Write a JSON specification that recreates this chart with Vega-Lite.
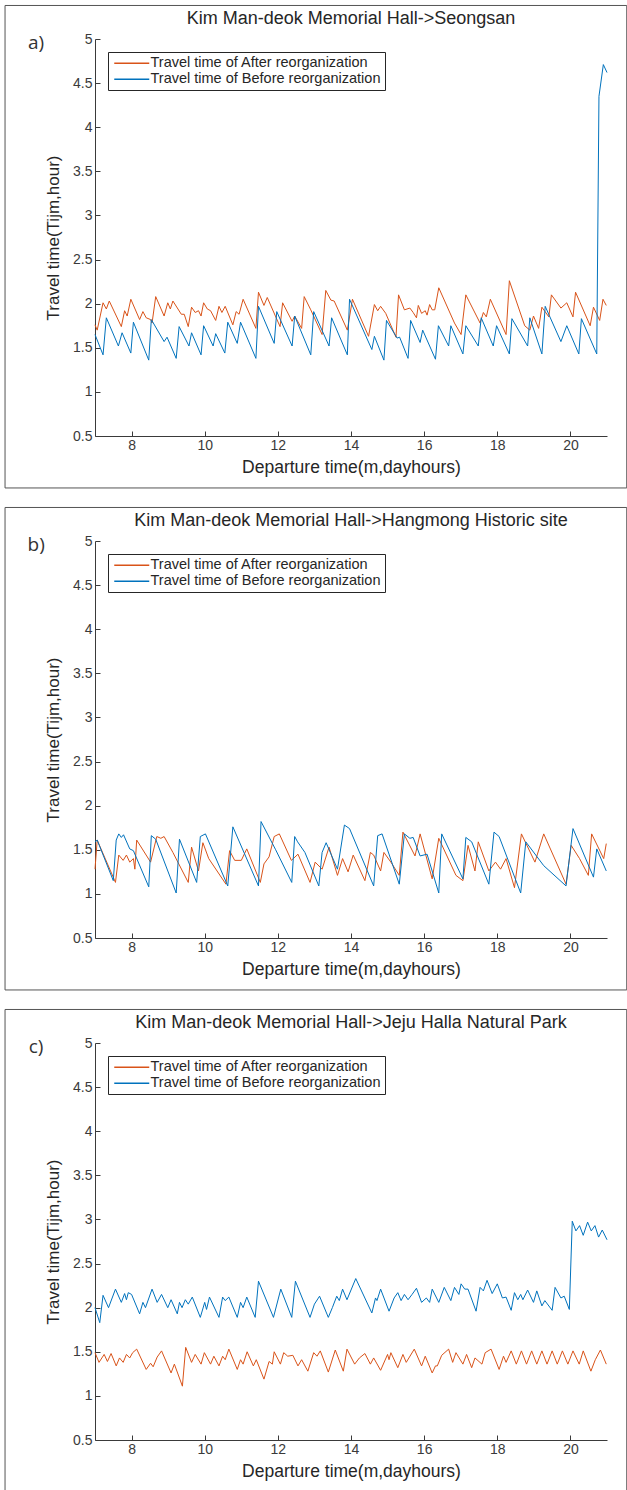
{
  "$schema": "https://vega.github.io/schema/vega-lite/v6.json",
  "padding": {"top": 4, "left": 4, "right": 0, "bottom": 0},
  "background": "white",
  "spacing": 17,
  "config": {
    "font": "Liberation Sans",
    "view": {"stroke": null},
    "axis": {"domainColor": "#3a3a3a", "tickColor": "#3a3a3a", "labelColor": "#3a3a3a", "titleColor": "#262626", "labelFontSize": 14, "titleFontSize": 17.5, "titleFontWeight": "normal", "grid": false, "tickSize": -5, "domainWidth": 1, "tickWidth": 1},
    "axisY": {"titleFontSize": 17},
    "title": {"fontSize": 18, "fontWeight": "normal", "color": "#262626", "frame": "group", "offset": -23},
    "legend": {"title": null, "orient": "top-left", "offset": 13, "symbolType": "M-1,0H6", "symbolSize": 100, "symbolStrokeWidth": 1.4, "strokeColor": "#262626", "fillColor": "white", "padding": 4, "labelFontSize": 14.5, "labelColor": "#262626", "labelLimit": 0, "rowPadding": 1, "labelOffset": 24}
  },
  "resolve": {"scale": {"color": "independent"}, "legend": {"color": "independent"}},
  "datasets": {
    "a": [
      {"s":"After","t":7.00,"v":1.76},{"s":"After","t":7.06,"v":1.70},{"s":"After","t":7.22,"v":2.01},{"s":"After","t":7.31,"v":1.94},{"s":"After","t":7.39,"v":2.03},{"s":"After","t":7.72,"v":1.74},{"s":"After","t":7.81,"v":1.92},{"s":"After","t":7.88,"v":1.86},{"s":"After","t":7.98,"v":2.05},{"s":"After","t":8.22,"v":1.82},{"s":"After","t":8.31,"v":1.91},{"s":"After","t":8.40,"v":1.84},{"s":"After","t":8.52,"v":1.82},{"s":"After","t":8.56,"v":1.78},{"s":"After","t":8.66,"v":2.08},{"s":"After","t":8.89,"v":1.86},{"s":"After","t":8.99,"v":2.01},{"s":"After","t":9.06,"v":1.94},{"s":"After","t":9.13,"v":2.03},{"s":"After","t":9.36,"v":1.88},{"s":"After","t":9.44,"v":1.88},{"s":"After","t":9.55,"v":1.74},{"s":"After","t":9.64,"v":1.96},{"s":"After","t":9.74,"v":1.90},{"s":"After","t":9.83,"v":1.92},{"s":"After","t":9.90,"v":1.86},{"s":"After","t":9.97,"v":2.01},{"s":"After","t":10.07,"v":1.94},{"s":"After","t":10.16,"v":1.92},{"s":"After","t":10.30,"v":1.81},{"s":"After","t":10.39,"v":1.97},{"s":"After","t":10.47,"v":1.90},{"s":"After","t":10.56,"v":1.97},{"s":"After","t":10.77,"v":1.76},{"s":"After","t":10.86,"v":1.91},{"s":"After","t":10.94,"v":1.88},{"s":"After","t":11.05,"v":2.05},{"s":"After","t":11.40,"v":1.72},{"s":"After","t":11.47,"v":2.13},{"s":"After","t":11.62,"v":1.98},{"s":"After","t":11.71,"v":2.07},{"s":"After","t":12.06,"v":1.74},{"s":"After","t":12.13,"v":2.01},{"s":"After","t":12.39,"v":1.80},{"s":"After","t":12.46,"v":1.86},{"s":"After","t":12.65,"v":1.72},{"s":"After","t":12.72,"v":2.08},{"s":"After","t":12.90,"v":1.93},{"s":"After","t":13.21,"v":1.65},{"s":"After","t":13.31,"v":2.15},{"s":"After","t":13.45,"v":2.04},{"s":"After","t":13.54,"v":2.03},{"s":"After","t":13.90,"v":1.70},{"s":"After","t":14.04,"v":2.05},{"s":"After","t":14.48,"v":1.63},{"s":"After","t":14.64,"v":1.99},{"s":"After","t":14.73,"v":1.92},{"s":"After","t":14.81,"v":1.97},{"s":"After","t":14.95,"v":1.89},{"s":"After","t":15.23,"v":1.62},{"s":"After","t":15.30,"v":2.10},{"s":"After","t":15.46,"v":1.93},{"s":"After","t":15.61,"v":1.95},{"s":"After","t":15.70,"v":1.90},{"s":"After","t":15.79,"v":1.84},{"s":"After","t":15.84,"v":1.98},{"s":"After","t":15.93,"v":1.89},{"s":"After","t":16.03,"v":1.92},{"s":"After","t":16.08,"v":1.87},{"s":"After","t":16.15,"v":1.99},{"s":"After","t":16.22,"v":1.93},{"s":"After","t":16.29,"v":1.93},{"s":"After","t":16.40,"v":2.18},{"s":"After","t":16.83,"v":1.78},{"s":"After","t":17.01,"v":1.65},{"s":"After","t":17.14,"v":2.10},{"s":"After","t":17.53,"v":1.78},{"s":"After","t":17.62,"v":1.90},{"s":"After","t":17.70,"v":1.85},{"s":"After","t":17.81,"v":2.05},{"s":"After","t":18.24,"v":1.65},{"s":"After","t":18.33,"v":2.26},{"s":"After","t":18.75,"v":1.75},{"s":"After","t":18.89,"v":1.70},{"s":"After","t":18.99,"v":1.86},{"s":"After","t":19.13,"v":1.72},{"s":"After","t":19.22,"v":1.96},{"s":"After","t":19.41,"v":1.85},{"s":"After","t":19.48,"v":2.10},{"s":"After","t":19.74,"v":1.95},{"s":"After","t":19.90,"v":2.01},{"s":"After","t":20.07,"v":1.85},{"s":"After","t":20.14,"v":2.13},{"s":"After","t":20.54,"v":1.75},{"s":"After","t":20.63,"v":1.96},{"s":"After","t":20.80,"v":1.81},{"s":"After","t":20.89,"v":2.05},{"s":"After","t":20.98,"v":1.98},
      {"s":"Before","t":7.00,"v":1.65},{"s":"Before","t":7.22,"v":1.42},{"s":"Before","t":7.31,"v":1.84},{"s":"Before","t":7.64,"v":1.52},{"s":"Before","t":7.74,"v":1.67},{"s":"Before","t":7.98,"v":1.44},{"s":"Before","t":8.05,"v":1.79},{"s":"Before","t":8.47,"v":1.36},{"s":"Before","t":8.54,"v":1.82},{"s":"Before","t":8.89,"v":1.57},{"s":"Before","t":8.97,"v":1.62},{"s":"Before","t":9.22,"v":1.38},{"s":"Before","t":9.30,"v":1.74},{"s":"Before","t":9.57,"v":1.52},{"s":"Before","t":9.64,"v":1.67},{"s":"Before","t":9.90,"v":1.42},{"s":"Before","t":9.97,"v":1.75},{"s":"Before","t":10.23,"v":1.52},{"s":"Before","t":10.30,"v":1.66},{"s":"Before","t":10.55,"v":1.44},{"s":"Before","t":10.63,"v":1.79},{"s":"Before","t":10.89,"v":1.55},{"s":"Before","t":10.98,"v":1.79},{"s":"Before","t":11.40,"v":1.38},{"s":"Before","t":11.47,"v":1.97},{"s":"Before","t":11.90,"v":1.55},{"s":"Before","t":11.97,"v":1.91},{"s":"Before","t":12.39,"v":1.52},{"s":"Before","t":12.46,"v":1.86},{"s":"Before","t":12.90,"v":1.42},{"s":"Before","t":12.98,"v":1.91},{"s":"Before","t":13.40,"v":1.52},{"s":"Before","t":13.47,"v":1.84},{"s":"Before","t":13.90,"v":1.42},{"s":"Before","t":13.96,"v":2.05},{"s":"Before","t":14.57,"v":1.48},{"s":"Before","t":14.64,"v":1.63},{"s":"Before","t":14.90,"v":1.36},{"s":"Before","t":14.97,"v":1.81},{"s":"Before","t":15.26,"v":1.61},{"s":"Before","t":15.33,"v":1.62},{"s":"Before","t":15.56,"v":1.38},{"s":"Before","t":15.63,"v":1.81},{"s":"Before","t":15.89,"v":1.56},{"s":"Before","t":15.96,"v":1.70},{"s":"Before","t":16.31,"v":1.37},{"s":"Before","t":16.39,"v":1.75},{"s":"Before","t":16.67,"v":1.52},{"s":"Before","t":16.73,"v":1.75},{"s":"Before","t":17.06,"v":1.43},{"s":"Before","t":17.14,"v":1.75},{"s":"Before","t":17.48,"v":1.52},{"s":"Before","t":17.56,"v":1.84},{"s":"Before","t":17.89,"v":1.52},{"s":"Before","t":17.98,"v":1.75},{"s":"Before","t":18.33,"v":1.43},{"s":"Before","t":18.40,"v":1.83},{"s":"Before","t":18.83,"v":1.52},{"s":"Before","t":18.89,"v":1.84},{"s":"Before","t":19.22,"v":1.43},{"s":"Before","t":19.31,"v":1.97},{"s":"Before","t":19.74,"v":1.57},{"s":"Before","t":19.90,"v":1.75},{"s":"Before","t":20.23,"v":1.43},{"s":"Before","t":20.30,"v":1.83},{"s":"Before","t":20.72,"v":1.43},{"s":"Before","t":20.78,"v":4.35},{"s":"Before","t":20.90,"v":4.71},{"s":"Before","t":21.00,"v":4.62}
    ],
    "b": [
      {"s":"After","t":7.00,"v":1.28},{"s":"After","t":7.06,"v":1.61},{"s":"After","t":7.56,"v":1.13},{"s":"After","t":7.65,"v":1.44},{"s":"After","t":7.77,"v":1.38},{"s":"After","t":7.86,"v":1.44},{"s":"After","t":7.95,"v":1.36},{"s":"After","t":8.05,"v":1.40},{"s":"After","t":8.09,"v":1.28},{"s":"After","t":8.14,"v":1.61},{"s":"After","t":8.52,"v":1.36},{"s":"After","t":8.69,"v":1.65},{"s":"After","t":8.80,"v":1.63},{"s":"After","t":8.89,"v":1.65},{"s":"After","t":9.13,"v":1.47},{"s":"After","t":9.55,"v":1.13},{"s":"After","t":9.64,"v":1.53},{"s":"After","t":9.83,"v":1.26},{"s":"After","t":9.95,"v":1.58},{"s":"After","t":10.11,"v":1.40},{"s":"After","t":10.58,"v":1.11},{"s":"After","t":10.68,"v":1.49},{"s":"After","t":10.82,"v":1.38},{"s":"After","t":11.00,"v":1.38},{"s":"After","t":11.15,"v":1.51},{"s":"After","t":11.52,"v":1.13},{"s":"After","t":11.62,"v":1.34},{"s":"After","t":11.76,"v":1.42},{"s":"After","t":11.90,"v":1.65},{"s":"After","t":12.04,"v":1.68},{"s":"After","t":12.37,"v":1.38},{"s":"After","t":12.55,"v":1.45},{"s":"After","t":12.88,"v":1.13},{"s":"After","t":13.02,"v":1.36},{"s":"After","t":13.21,"v":1.28},{"s":"After","t":13.40,"v":1.53},{"s":"After","t":13.63,"v":1.21},{"s":"After","t":13.77,"v":1.40},{"s":"After","t":13.92,"v":1.25},{"s":"After","t":14.06,"v":1.44},{"s":"After","t":14.38,"v":1.15},{"s":"After","t":14.53,"v":1.47},{"s":"After","t":14.62,"v":1.44},{"s":"After","t":14.81,"v":1.26},{"s":"After","t":14.90,"v":1.47},{"s":"After","t":15.09,"v":1.36},{"s":"After","t":15.32,"v":1.21},{"s":"After","t":15.42,"v":1.70},{"s":"After","t":15.75,"v":1.43},{"s":"After","t":15.89,"v":1.68},{"s":"After","t":16.22,"v":1.17},{"s":"After","t":16.40,"v":1.63},{"s":"After","t":16.87,"v":1.21},{"s":"After","t":17.06,"v":1.15},{"s":"After","t":17.20,"v":1.55},{"s":"After","t":17.39,"v":1.26},{"s":"After","t":17.48,"v":1.59},{"s":"After","t":17.77,"v":1.26},{"s":"After","t":17.95,"v":1.36},{"s":"After","t":18.09,"v":1.28},{"s":"After","t":18.24,"v":1.40},{"s":"After","t":18.47,"v":1.07},{"s":"After","t":18.66,"v":1.68},{"s":"After","t":19.03,"v":1.36},{"s":"After","t":19.27,"v":1.68},{"s":"After","t":19.88,"v":1.11},{"s":"After","t":20.02,"v":1.55},{"s":"After","t":20.25,"v":1.40},{"s":"After","t":20.49,"v":1.21},{"s":"After","t":20.58,"v":1.68},{"s":"After","t":20.91,"v":1.40},{"s":"After","t":20.98,"v":1.57},
      {"s":"Before","t":7.00,"v":1.59},{"s":"Before","t":7.06,"v":1.61},{"s":"Before","t":7.50,"v":1.15},{"s":"Before","t":7.58,"v":1.61},{"s":"Before","t":7.65,"v":1.68},{"s":"Before","t":7.72,"v":1.64},{"s":"Before","t":7.78,"v":1.67},{"s":"Before","t":7.95,"v":1.51},{"s":"Before","t":8.05,"v":1.49},{"s":"Before","t":8.47,"v":1.08},{"s":"Before","t":8.54,"v":1.66},{"s":"Before","t":8.66,"v":1.62},{"s":"Before","t":9.22,"v":1.01},{"s":"Before","t":9.31,"v":1.62},{"s":"Before","t":9.78,"v":1.13},{"s":"Before","t":9.88,"v":1.65},{"s":"Before","t":10.02,"v":1.68},{"s":"Before","t":10.63,"v":1.09},{"s":"Before","t":10.77,"v":1.76},{"s":"Before","t":11.47,"v":1.09},{"s":"Before","t":11.54,"v":1.82},{"s":"Before","t":11.94,"v":1.50},{"s":"Before","t":12.38,"v":1.13},{"s":"Before","t":12.46,"v":1.65},{"s":"Before","t":12.54,"v":1.59},{"s":"Before","t":12.74,"v":1.47},{"s":"Before","t":13.12,"v":1.09},{"s":"Before","t":13.21,"v":1.47},{"s":"Before","t":13.32,"v":1.58},{"s":"Before","t":13.63,"v":1.28},{"s":"Before","t":13.82,"v":1.78},{"s":"Before","t":13.96,"v":1.74},{"s":"Before","t":14.62,"v":1.09},{"s":"Before","t":14.73,"v":1.66},{"s":"Before","t":14.85,"v":1.68},{"s":"Before","t":15.32,"v":1.11},{"s":"Before","t":15.46,"v":1.68},{"s":"Before","t":15.61,"v":1.63},{"s":"Before","t":15.70,"v":1.64},{"s":"Before","t":15.89,"v":1.43},{"s":"Before","t":16.08,"v":1.45},{"s":"Before","t":16.40,"v":1.01},{"s":"Before","t":16.48,"v":1.68},{"s":"Before","t":17.06,"v":1.17},{"s":"Before","t":17.14,"v":1.64},{"s":"Before","t":17.30,"v":1.59},{"s":"Before","t":17.77,"v":1.11},{"s":"Before","t":17.91,"v":1.70},{"s":"Before","t":18.05,"v":1.65},{"s":"Before","t":18.64,"v":1.01},{"s":"Before","t":18.78,"v":1.59},{"s":"Before","t":19.27,"v":1.32},{"s":"Before","t":19.88,"v":1.09},{"s":"Before","t":20.07,"v":1.74},{"s":"Before","t":20.63,"v":1.19},{"s":"Before","t":20.72,"v":1.51},{"s":"Before","t":20.98,"v":1.26}
    ],
    "c": [
      {"s":"After","t":7.00,"v":1.49},{"s":"After","t":7.11,"v":1.38},{"s":"After","t":7.25,"v":1.47},{"s":"After","t":7.34,"v":1.39},{"s":"After","t":7.44,"v":1.48},{"s":"After","t":7.58,"v":1.34},{"s":"After","t":7.67,"v":1.43},{"s":"After","t":7.77,"v":1.38},{"s":"After","t":7.86,"v":1.47},{"s":"After","t":7.95,"v":1.43},{"s":"After","t":8.03,"v":1.49},{"s":"After","t":8.14,"v":1.53},{"s":"After","t":8.40,"v":1.30},{"s":"After","t":8.52,"v":1.37},{"s":"After","t":8.59,"v":1.33},{"s":"After","t":8.70,"v":1.44},{"s":"After","t":8.82,"v":1.51},{"s":"After","t":9.08,"v":1.26},{"s":"After","t":9.17,"v":1.36},{"s":"After","t":9.39,"v":1.11},{"s":"After","t":9.48,"v":1.55},{"s":"After","t":9.64,"v":1.38},{"s":"After","t":9.74,"v":1.47},{"s":"After","t":9.90,"v":1.36},{"s":"After","t":9.99,"v":1.49},{"s":"After","t":10.16,"v":1.36},{"s":"After","t":10.25,"v":1.45},{"s":"After","t":10.39,"v":1.34},{"s":"After","t":10.49,"v":1.45},{"s":"After","t":10.56,"v":1.41},{"s":"After","t":10.66,"v":1.53},{"s":"After","t":10.89,"v":1.30},{"s":"After","t":10.98,"v":1.41},{"s":"After","t":11.05,"v":1.36},{"s":"After","t":11.16,"v":1.50},{"s":"After","t":11.33,"v":1.34},{"s":"After","t":11.41,"v":1.41},{"s":"After","t":11.62,"v":1.19},{"s":"After","t":11.76,"v":1.39},{"s":"After","t":11.85,"v":1.36},{"s":"After","t":11.90,"v":1.50},{"s":"After","t":12.07,"v":1.36},{"s":"After","t":12.16,"v":1.49},{"s":"After","t":12.27,"v":1.45},{"s":"After","t":12.41,"v":1.46},{"s":"After","t":12.55,"v":1.34},{"s":"After","t":12.65,"v":1.41},{"s":"After","t":12.82,"v":1.28},{"s":"After","t":12.98,"v":1.49},{"s":"After","t":13.07,"v":1.45},{"s":"After","t":13.16,"v":1.51},{"s":"After","t":13.38,"v":1.27},{"s":"After","t":13.57,"v":1.52},{"s":"After","t":13.79,"v":1.28},{"s":"After","t":13.89,"v":1.53},{"s":"After","t":14.10,"v":1.36},{"s":"After","t":14.23,"v":1.43},{"s":"After","t":14.38,"v":1.48},{"s":"After","t":14.53,"v":1.36},{"s":"After","t":14.62,"v":1.43},{"s":"After","t":14.81,"v":1.29},{"s":"After","t":15.00,"v":1.47},{"s":"After","t":15.04,"v":1.41},{"s":"After","t":15.09,"v":1.49},{"s":"After","t":15.28,"v":1.32},{"s":"After","t":15.42,"v":1.47},{"s":"After","t":15.51,"v":1.38},{"s":"After","t":15.73,"v":1.53},{"s":"After","t":15.93,"v":1.34},{"s":"After","t":16.03,"v":1.45},{"s":"After","t":16.22,"v":1.26},{"s":"After","t":16.31,"v":1.34},{"s":"After","t":16.36,"v":1.34},{"s":"After","t":16.48,"v":1.46},{"s":"After","t":16.67,"v":1.53},{"s":"After","t":16.78,"v":1.38},{"s":"After","t":16.87,"v":1.49},{"s":"After","t":17.06,"v":1.36},{"s":"After","t":17.16,"v":1.47},{"s":"After","t":17.30,"v":1.32},{"s":"After","t":17.39,"v":1.43},{"s":"After","t":17.58,"v":1.36},{"s":"After","t":17.67,"v":1.49},{"s":"After","t":17.83,"v":1.53},{"s":"After","t":18.05,"v":1.30},{"s":"After","t":18.17,"v":1.45},{"s":"After","t":18.24,"v":1.38},{"s":"After","t":18.38,"v":1.51},{"s":"After","t":18.52,"v":1.36},{"s":"After","t":18.66,"v":1.51},{"s":"After","t":18.80,"v":1.36},{"s":"After","t":18.94,"v":1.51},{"s":"After","t":19.08,"v":1.36},{"s":"After","t":19.22,"v":1.51},{"s":"After","t":19.36,"v":1.36},{"s":"After","t":19.50,"v":1.51},{"s":"After","t":19.64,"v":1.36},{"s":"After","t":19.78,"v":1.51},{"s":"After","t":19.93,"v":1.36},{"s":"After","t":20.07,"v":1.51},{"s":"After","t":20.24,"v":1.36},{"s":"After","t":20.35,"v":1.51},{"s":"After","t":20.56,"v":1.28},{"s":"After","t":20.68,"v":1.41},{"s":"After","t":20.82,"v":1.52},{"s":"After","t":20.98,"v":1.36},
      {"s":"Before","t":7.00,"v":2.00},{"s":"Before","t":7.13,"v":1.83},{"s":"Before","t":7.22,"v":2.14},{"s":"Before","t":7.37,"v":2.00},{"s":"Before","t":7.56,"v":2.21},{"s":"Before","t":7.72,"v":2.06},{"s":"Before","t":7.81,"v":2.16},{"s":"Before","t":7.86,"v":2.09},{"s":"Before","t":7.91,"v":2.17},{"s":"Before","t":8.00,"v":2.15},{"s":"Before","t":8.22,"v":1.93},{"s":"Before","t":8.31,"v":2.06},{"s":"Before","t":8.38,"v":2.00},{"s":"Before","t":8.56,"v":2.21},{"s":"Before","t":8.70,"v":2.06},{"s":"Before","t":8.82,"v":2.15},{"s":"Before","t":8.99,"v":2.00},{"s":"Before","t":9.08,"v":2.09},{"s":"Before","t":9.25,"v":1.93},{"s":"Before","t":9.31,"v":2.06},{"s":"Before","t":9.38,"v":2.00},{"s":"Before","t":9.47,"v":2.09},{"s":"Before","t":9.55,"v":2.04},{"s":"Before","t":9.66,"v":2.12},{"s":"Before","t":9.88,"v":1.89},{"s":"Before","t":10.00,"v":2.06},{"s":"Before","t":10.05,"v":1.98},{"s":"Before","t":10.13,"v":2.12},{"s":"Before","t":10.39,"v":1.89},{"s":"Before","t":10.49,"v":2.12},{"s":"Before","t":10.56,"v":2.08},{"s":"Before","t":10.66,"v":2.12},{"s":"Before","t":10.89,"v":1.89},{"s":"Before","t":10.98,"v":2.06},{"s":"Before","t":11.05,"v":2.00},{"s":"Before","t":11.15,"v":2.12},{"s":"Before","t":11.38,"v":1.89},{"s":"Before","t":11.47,"v":2.30},{"s":"Before","t":11.88,"v":1.89},{"s":"Before","t":12.08,"v":2.21},{"s":"Before","t":12.38,"v":1.89},{"s":"Before","t":12.48,"v":2.30},{"s":"Before","t":12.88,"v":1.89},{"s":"Before","t":13.00,"v":2.04},{"s":"Before","t":13.14,"v":2.13},{"s":"Before","t":13.38,"v":1.89},{"s":"Before","t":13.49,"v":2.00},{"s":"Before","t":13.61,"v":2.13},{"s":"Before","t":13.68,"v":2.08},{"s":"Before","t":13.77,"v":2.21},{"s":"Before","t":13.89,"v":2.09},{"s":"Before","t":14.13,"v":2.33},{"s":"Before","t":14.57,"v":1.94},{"s":"Before","t":14.67,"v":2.11},{"s":"Before","t":14.71,"v":2.08},{"s":"Before","t":14.81,"v":2.21},{"s":"Before","t":15.04,"v":1.96},{"s":"Before","t":15.18,"v":2.11},{"s":"Before","t":15.28,"v":2.17},{"s":"Before","t":15.37,"v":2.08},{"s":"Before","t":15.46,"v":2.15},{"s":"Before","t":15.56,"v":2.09},{"s":"Before","t":15.67,"v":2.15},{"s":"Before","t":15.79,"v":2.22},{"s":"Before","t":15.93,"v":2.06},{"s":"Before","t":16.06,"v":2.11},{"s":"Before","t":16.15,"v":2.06},{"s":"Before","t":16.22,"v":2.21},{"s":"Before","t":16.40,"v":2.06},{"s":"Before","t":16.55,"v":2.23},{"s":"Before","t":16.73,"v":2.08},{"s":"Before","t":16.83,"v":2.23},{"s":"Before","t":16.95,"v":2.15},{"s":"Before","t":17.01,"v":2.27},{"s":"Before","t":17.11,"v":2.21},{"s":"Before","t":17.20,"v":2.21},{"s":"Before","t":17.42,"v":1.96},{"s":"Before","t":17.53,"v":2.23},{"s":"Before","t":17.62,"v":2.19},{"s":"Before","t":17.72,"v":2.31},{"s":"Before","t":17.86,"v":2.16},{"s":"Before","t":18.00,"v":2.27},{"s":"Before","t":18.14,"v":2.11},{"s":"Before","t":18.24,"v":2.12},{"s":"Before","t":18.38,"v":1.97},{"s":"Before","t":18.47,"v":2.17},{"s":"Before","t":18.56,"v":2.09},{"s":"Before","t":18.64,"v":2.15},{"s":"Before","t":18.70,"v":2.09},{"s":"Before","t":18.83,"v":2.20},{"s":"Before","t":18.99,"v":2.06},{"s":"Before","t":19.08,"v":2.19},{"s":"Before","t":19.22,"v":2.02},{"s":"Before","t":19.30,"v":2.08},{"s":"Before","t":19.50,"v":1.97},{"s":"Before","t":19.58,"v":2.23},{"s":"Before","t":19.74,"v":2.11},{"s":"Before","t":19.83,"v":2.13},{"s":"Before","t":19.97,"v":1.98},{"s":"Before","t":20.05,"v":2.98},{"s":"Before","t":20.15,"v":2.87},{"s":"Before","t":20.25,"v":2.93},{"s":"Before","t":20.35,"v":2.82},{"s":"Before","t":20.47,"v":2.97},{"s":"Before","t":20.57,"v":2.87},{"s":"Before","t":20.67,"v":2.93},{"s":"Before","t":20.77,"v":2.80},{"s":"Before","t":20.87,"v":2.88},{"s":"Before","t":21.00,"v":2.77}
    ]
  },
  "vconcat": [
    {
      "width": 512, "height": 397,
      "title": {"text": "Kim Man-deok Memorial Hall->Seongsan"},
      "layer": [
        {
          "data": {"name": "a"},
          "mark": {"type": "line", "strokeWidth": 1},
          "encoding": {
            "x": {"field": "t", "type": "quantitative", "scale": {"domain": [7, 21], "nice": false, "zero": false}, "axis": {"title": "Departure time(m,dayhours)", "values": [8, 10, 12, 14, 16, 18, 20], "format": "d", "labelPadding": 7, "titlePadding": 6}},
            "y": {"field": "v", "type": "quantitative", "scale": {"domain": [0.5, 5], "nice": false, "zero": false}, "axis": {"title": "Travel time(Tijm,hour)", "values": [0.5, 1, 1.5, 2, 2.5, 3, 3.5, 4, 4.5, 5], "format": "~g", "labelPadding": 8, "titlePadding": 10}},
            "color": {"field": "s", "type": "nominal", "scale": {"domain": ["After", "Before"], "range": ["#D95319", "#0072BD"]}, "legend": {"labelExpr": "'Travel time of ' + datum.label + ' reorganization'"}}
          }
        },
        {
          "data": {"values": [{}]},
          "mark": {"type": "rect", "fillOpacity": 0, "stroke": "#555555", "strokeWidth": 1},
          "encoding": {
            "x": {"datum": 4.54, "type": "quantitative", "scale": {"domain": [7, 21], "nice": false, "zero": false}},
            "x2": {"datum": 21.54},
            "y": {"datum": 5.38, "type": "quantitative", "scale": {"domain": [0.5, 5], "nice": false, "zero": false}},
            "y2": {"datum": -0.089}
          }
        },
        {
          "data": {"values": [{}]},
          "mark": {"type": "text", "text": "a)", "font": "Open Sans", "fontSize": 19, "color": "#333333", "align": "center", "baseline": "middle"},
          "encoding": {
            "x": {"datum": 5.39, "type": "quantitative", "scale": {"domain": [7, 21], "nice": false, "zero": false}},
            "y": {"datum": 4.95, "type": "quantitative", "scale": {"domain": [0.5, 5], "nice": false, "zero": false}}
          }
        }
      ]
    },
    {
      "width": 512, "height": 397,
      "title": {"text": "Kim Man-deok Memorial Hall->Hangmong Historic site"},
      "layer": [
        {
          "data": {"name": "b"},
          "mark": {"type": "line", "strokeWidth": 1},
          "encoding": {
            "x": {"field": "t", "type": "quantitative", "scale": {"domain": [7, 21], "nice": false, "zero": false}, "axis": {"title": "Departure time(m,dayhours)", "values": [8, 10, 12, 14, 16, 18, 20], "format": "d", "labelPadding": 7, "titlePadding": 6}},
            "y": {"field": "v", "type": "quantitative", "scale": {"domain": [0.5, 5], "nice": false, "zero": false}, "axis": {"title": "Travel time(Tijm,hour)", "values": [0.5, 1, 1.5, 2, 2.5, 3, 3.5, 4, 4.5, 5], "format": "~g", "labelPadding": 8, "titlePadding": 10}},
            "color": {"field": "s", "type": "nominal", "scale": {"domain": ["After", "Before"], "range": ["#D95319", "#0072BD"]}, "legend": {"labelExpr": "'Travel time of ' + datum.label + ' reorganization'"}}
          }
        },
        {
          "data": {"values": [{}]},
          "mark": {"type": "rect", "fillOpacity": 0, "stroke": "#555555", "strokeWidth": 1},
          "encoding": {
            "x": {"datum": 4.54, "type": "quantitative", "scale": {"domain": [7, 21], "nice": false, "zero": false}},
            "x2": {"datum": 21.54},
            "y": {"datum": 5.38, "type": "quantitative", "scale": {"domain": [0.5, 5], "nice": false, "zero": false}},
            "y2": {"datum": -0.089}
          }
        },
        {
          "data": {"values": [{}]},
          "mark": {"type": "text", "text": "b)", "font": "Open Sans", "fontSize": 19, "color": "#333333", "align": "center", "baseline": "middle"},
          "encoding": {
            "x": {"datum": 5.39, "type": "quantitative", "scale": {"domain": [7, 21], "nice": false, "zero": false}},
            "y": {"datum": 4.95, "type": "quantitative", "scale": {"domain": [0.5, 5], "nice": false, "zero": false}}
          }
        }
      ]
    },
    {
      "width": 512, "height": 397,
      "title": {"text": "Kim Man-deok Memorial Hall->Jeju Halla Natural Park"},
      "layer": [
        {
          "data": {"name": "c"},
          "mark": {"type": "line", "strokeWidth": 1},
          "encoding": {
            "x": {"field": "t", "type": "quantitative", "scale": {"domain": [7, 21], "nice": false, "zero": false}, "axis": {"title": "Departure time(m,dayhours)", "values": [8, 10, 12, 14, 16, 18, 20], "format": "d", "labelPadding": 7, "titlePadding": 6}},
            "y": {"field": "v", "type": "quantitative", "scale": {"domain": [0.5, 5], "nice": false, "zero": false}, "axis": {"title": "Travel time(Tijm,hour)", "values": [0.5, 1, 1.5, 2, 2.5, 3, 3.5, 4, 4.5, 5], "format": "~g", "labelPadding": 8, "titlePadding": 10}},
            "color": {"field": "s", "type": "nominal", "scale": {"domain": ["After", "Before"], "range": ["#D95319", "#0072BD"]}, "legend": {"labelExpr": "'Travel time of ' + datum.label + ' reorganization'"}}
          }
        },
        {
          "data": {"values": [{}]},
          "mark": {"type": "rect", "fillOpacity": 0, "stroke": "#555555", "strokeWidth": 1},
          "encoding": {
            "x": {"datum": 4.54, "type": "quantitative", "scale": {"domain": [7, 21], "nice": false, "zero": false}},
            "x2": {"datum": 21.54},
            "y": {"datum": 5.38, "type": "quantitative", "scale": {"domain": [0.5, 5], "nice": false, "zero": false}},
            "y2": {"datum": -0.089}
          }
        },
        {
          "data": {"values": [{}]},
          "mark": {"type": "text", "text": "c)", "font": "Open Sans", "fontSize": 19, "color": "#333333", "align": "center", "baseline": "middle"},
          "encoding": {
            "x": {"datum": 5.39, "type": "quantitative", "scale": {"domain": [7, 21], "nice": false, "zero": false}},
            "y": {"datum": 4.95, "type": "quantitative", "scale": {"domain": [0.5, 5], "nice": false, "zero": false}}
          }
        }
      ]
    }
  ]
}
